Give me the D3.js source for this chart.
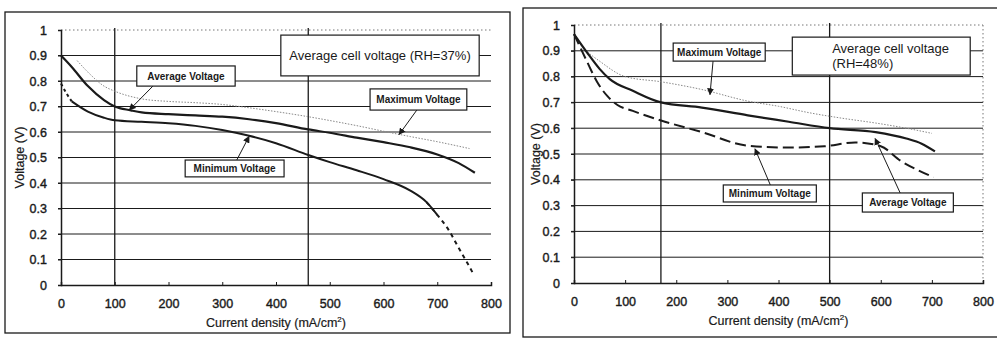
<!DOCTYPE html>
<html>
<head>
<meta charset="utf-8">
<script src="https://cdn.jsdelivr.net/npm/d3@7"></script>
<style>
  body { margin: 0; background: #fff; }
  svg { display: block; font-family: "Liberation Sans", Arial, sans-serif; }
</style>
</head>
<body>
<svg id="chart" width="997" height="339"></svg>
<script>
// values: [current density mA/cm2, voltage V]
const xTicks = [0, 100, 200, 300, 400, 500, 600, 700, 800];
const yTicks = [0, 0.1, 0.2, 0.3, 0.4, 0.5, 0.6, 0.7, 0.8, 0.9, 1];

const leftAverage = [[0, 0.90], [20, 0.855], [50, 0.78], [80, 0.725], [100, 0.70], [130, 0.685],
  [150, 0.677], [200, 0.67], [250, 0.665], [300, 0.66], [350, 0.65], [400, 0.635], [460, 0.61],
  [500, 0.597], [550, 0.578], [600, 0.56], [650, 0.54], [700, 0.512], [740, 0.478], [770, 0.44]];
const leftMaximum = [[30, 0.88], [50, 0.835], [80, 0.78], [100, 0.76], [150, 0.73], [200, 0.72],
  [250, 0.715], [300, 0.708], [350, 0.695], [400, 0.68], [460, 0.66], [500, 0.645], [550, 0.625],
  [600, 0.603], [650, 0.582], [700, 0.562], [760, 0.535]];
const leftMinimum = [[0, 0.79], [10, 0.752], [20, 0.72], [50, 0.68], [80, 0.656], [100, 0.646],
  [150, 0.64], [200, 0.634], [250, 0.624], [300, 0.608], [350, 0.585], [400, 0.556], [460, 0.51],
  [500, 0.482], [550, 0.45], [600, 0.415], [650, 0.37], [680, 0.325], [700, 0.275], [720, 0.22],
  [740, 0.145], [755, 0.09], [768, 0.04]];
const leftMinimumSolid = [20, 690];
const leftMarkers = [100, 460];

const rightAverage = [[0, 0.965], [25, 0.895], [50, 0.83], [70, 0.79], [115, 0.745], [170, 0.70],
  [250, 0.68], [340, 0.65], [420, 0.625], [500, 0.60], [590, 0.585], [650, 0.56], [680, 0.54],
  [706, 0.51]];
const rightMaximum = [[10, 0.93], [30, 0.89], [50, 0.86], [100, 0.80], [170, 0.78], [250, 0.75],
  [340, 0.705], [400, 0.685], [460, 0.66], [520, 0.64], [590, 0.62], [650, 0.60], [700, 0.58]];
const rightMinimum = [[0, 0.965], [25, 0.86], [45, 0.78], [65, 0.725], [85, 0.69], [115, 0.667],
  [170, 0.63], [250, 0.585], [340, 0.532], [420, 0.525], [490, 0.53], [550, 0.545], [600, 0.53],
  [640, 0.472], [670, 0.44], [703, 0.41]];
const rightMarkers = [170, 500];

const svg = d3.select('#chart');
const ink = '#1a1a1a';

svg.append('defs').append('marker')
  .attr('id', 'arrow')
  .attr('viewBox', '0 0 10 10')
  .attr('refX', 9).attr('refY', 5)
  .attr('markerWidth', 7).attr('markerHeight', 7)
  .attr('markerUnits', 'userSpaceOnUse')
  .attr('orient', 'auto')
  .append('path').attr('d', 'M0,0 L10,5 L0,10 z').attr('fill', ink);

function drawPanel(p) {
  const g = svg.append('g');
  const x = d3.scaleLinear().domain([0, 800]).range([p.plot.x0, p.plot.x1]);
  const y = d3.scaleLinear().domain([0, 1]).range([p.plot.y0, p.plot.y1]);

  // outer frame
  g.append('rect')
    .attr('x', p.frame[0]).attr('y', p.frame[1])
    .attr('width', p.frame[2] - p.frame[0]).attr('height', p.frame[3] - p.frame[1])
    .attr('fill', 'none').attr('stroke', ink).attr('stroke-width', 1.3);

  // horizontal grid
  g.selectAll('line.grid')
    .data(yTicks.filter(d => d > 0 && d < 1))
    .enter().append('line').attr('class', 'grid')
    .attr('x1', x(0) - 3).attr('x2', x(800))
    .attr('y1', d => y(d)).attr('y2', d => y(d))
    .attr('stroke', ink).attr('stroke-width', 1);

  // dotted top (and right) border of the plot area
  g.append('line')
    .attr('x1', x(0)).attr('x2', x(800)).attr('y1', y(1)).attr('y2', y(1))
    .attr('stroke', '#777').attr('stroke-width', 1).attr('stroke-dasharray', '1.5,2.5');
  if (p.rightEdge) {
    g.append('line')
      .attr('x1', x(800)).attr('x2', x(800)).attr('y1', y(1)).attr('y2', y(0))
      .attr('stroke', '#777').attr('stroke-width', 1).attr('stroke-dasharray', '1.5,2.5');
  }

  // vertical markers
  g.selectAll('line.marker')
    .data(p.markers)
    .enter().append('line').attr('class', 'marker')
    .attr('x1', d => x(d)).attr('x2', d => x(d))
    .attr('y1', y(0)).attr('y2', y(1) - 2)
    .attr('stroke', ink).attr('stroke-width', 1.3);

  // axes
  const xAxis = d3.axisBottom(x).tickValues(xTicks).tickSize(-3).tickPadding(14)
    .tickFormat(d3.format('d'));
  const yAxis = d3.axisLeft(y).tickValues(yTicks).tickSize(3).tickPadding(11)
    .tickFormat(d => d === 0 || d === 1 ? d3.format('d')(d) : d3.format('.1f')(d));

  const gx = g.append('g').attr('transform', `translate(0,${y(0)})`).call(xAxis);
  const gy = g.append('g').attr('transform', `translate(${x(0)},0)`).call(yAxis);
  [gx, gy].forEach(a => {
    a.select('.domain').attr('stroke', ink).attr('stroke-width', 1.5);
    a.selectAll('.tick line').attr('stroke', ink);
    a.selectAll('.tick text').attr('fill', ink).attr('font-size', 12.5)
      .attr('font-family', '"Liberation Sans", Arial, sans-serif')
      .attr('stroke', ink).attr('stroke-width', 0.4);
  });
  gx.select('.tick line').remove();

  // axis titles
  const xt = g.append('text')
    .attr('x', (x(0) + x(800)) / 2).attr('y', p.xTitleY)
    .attr('text-anchor', 'middle').attr('font-size', 12.5).attr('fill', ink)
    .attr('stroke', ink).attr('stroke-width', 0.2)
    .text('Current density (mA/cm');
  xt.append('tspan').attr('dy', -5).attr('font-size', 8).text('2');
  xt.append('tspan').attr('dy', 5).text(')');

  g.append('text')
    .attr('transform', `translate(${p.yTitleX},${(y(0) + y(1)) / 2}) rotate(-90)`)
    .attr('text-anchor', 'middle').attr('font-size', 12.5).attr('fill', ink)
    .attr('stroke', ink).attr('stroke-width', 0.2)
    .text('Voltage (V)');

  // curves
  const line = d3.line().x(d => x(d[0])).y(d => y(d[1])).curve(d3.curveMonotoneX);
  p.curves.forEach(c => {
    g.append('path').datum(c.data)
      .attr('d', line)
      .attr('fill', 'none')
      .attr('stroke', c.color || ink)
      .attr('stroke-width', c.width)
      .attr('stroke-dasharray', c.dash || null)
      .attr('stroke-linejoin', 'round');
  });

  // callout boxes with arrows
  p.callouts.forEach(c => {
    if (c.from) {
      g.append('line')
        .attr('x1', x(c.from[0])).attr('y1', y(c.from[1]))
        .attr('x2', x(c.to[0])).attr('y2', y(c.to[1]))
        .attr('stroke', ink).attr('stroke-width', 1)
        .attr('marker-end', 'url(#arrow)');
    }
    const bx = x(c.box[0]), by = y(c.box[1]);
    const bw = x(c.box[2]) - bx, bh = y(c.box[3]) - by;
    g.append('rect')
      .attr('x', bx).attr('y', by).attr('width', bw).attr('height', bh)
      .attr('fill', '#fff').attr('stroke', ink).attr('stroke-width', 1.2);
    const t = g.append('text')
      .attr('font-size', c.size).attr('font-weight', c.bold ? 'bold' : 'normal')
      .attr('fill', ink)
      .attr('text-anchor', c.anchor || 'middle');
    c.lines.forEach((l, i) => {
      t.append('tspan')
        .attr('x', c.textX !== undefined ? x(c.textX) : bx + bw / 2)
        .attr('y', by + bh / 2 + (i - (c.lines.length - 1) / 2) * c.size * 1.1)
        .attr('dy', '0.35em')
        .text(l);
    });
  });
}

drawPanel({
  frame: [5, 12, 510, 333],
  plot: { x0: 61, x1: 491, y0: 285, y1: 30 },
  xTitleY: 327, yTitleX: 24,
  markers: leftMarkers,
  rightEdge: false,
  curves: [
    { data: leftMaximum, width: 1, dash: '1.5,1.5', color: '#888' },
    { data: leftAverage, width: 2.2 },
    { data: leftMinimum.filter(d => d[0] <= leftMinimumSolid[0]), width: 2, dash: '3,3' },
    { data: leftMinimum.filter(d => d[0] >= leftMinimumSolid[0] && d[0] <= leftMinimumSolid[1] + 10), width: 2 },
    { data: leftMinimum.filter(d => d[0] >= leftMinimumSolid[1] - 10), width: 2, dash: '4,4' }
  ],
  callouts: [
    { box: [409, 0.98, 778, 0.82], lines: ['Average cell voltage (RH=37%)'], size: 13 },
    { box: [141, 0.859, 324, 0.78], lines: ['Average Voltage'], size: 10, bold: true,
      from: [171, 0.78], to: [127, 0.686] },
    { box: [575, 0.769, 755, 0.686], lines: ['Maximum Voltage'], size: 10, bold: true,
      from: [662, 0.686], to: [629, 0.59] },
    { box: [231, 0.49, 415, 0.424], lines: ['Minimum Voltage'], size: 10, bold: true,
      from: [327, 0.49], to: [350, 0.583] }
  ]
});

drawPanel({
  frame: [523, 8, 1002, 337],
  plot: { x0: 574, x1: 983, y0: 283, y1: 25 },
  xTitleY: 325, yTitleX: 540,
  markers: rightMarkers,
  rightEdge: true,
  curves: [
    { data: rightMaximum, width: 1, dash: '1.5,1.5', color: '#888' },
    { data: rightAverage, width: 2.2 },
    { data: rightMinimum, width: 2, dash: '11,5' }
  ],
  callouts: [
    { box: [427, 0.953, 775, 0.806], lines: ['Average cell voltage', '(RH=48%)'], size: 13,
      anchor: 'start', textX: 505 },
    { box: [194, 0.93, 374, 0.86], lines: ['Maximum Voltage'], size: 10, bold: true,
      from: [272, 0.86], to: [266, 0.73] },
    { box: [292, 0.38, 474, 0.314], lines: ['Minimum Voltage'], size: 10, bold: true,
      from: [384, 0.38], to: [354, 0.52] },
    { box: [564, 0.349, 742, 0.275], lines: ['Average Voltage'], size: 10, bold: true,
      from: [638, 0.349], to: [589, 0.56] }
  ]
});
</script>
</body>
</html>
